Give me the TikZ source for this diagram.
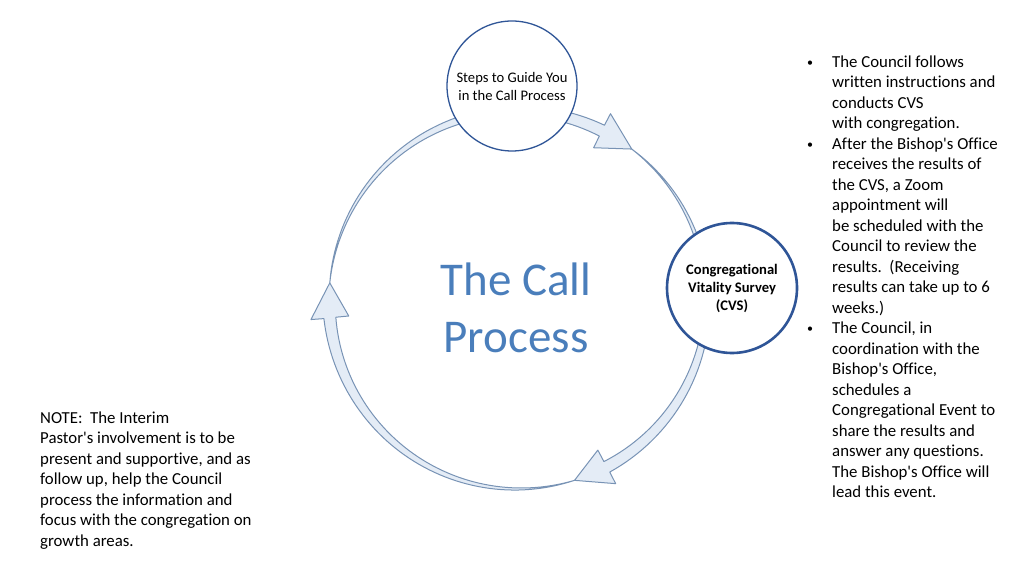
\documentclass[tikz,border=0pt]{standalone}
\usepackage{fontspec}
\setmainfont{Carlito}[Ligatures={TeX,NoCommon}]
\usepackage{tikz}
\usetikzlibrary{positioning,calc}
\usepackage{xcolor}
\definecolor{nodeblue}{HTML}{2F5597}
\definecolor{titleblue}{HTML}{4A7EBB}
\definecolor{ringfill}{HTML}{E4ECF6}
\definecolor{ringline}{HTML}{7893B5}
\newcommand{\apos}{\textquotesingle}
\newcommand{\dotmark}{\raisebox{1pt}{\fontsize{12}{12}\selectfont\textbullet}}

% one tapering arc of the ring: #1 tail angle, #2 tip angle (clockwise)
\newcommand{\ringarrow}[2]{%
  \pgfmathsetmacro\hb{#2+10.6}
  \filldraw[ring] plot[domain=0:1,samples=60,variable=\s] ({#1+\s*(\hb-#1)}:{189+6*\s})
    -- (\hb:208) -- (#2:189) -- (\hb:170)
    -- plot[domain=0:1,samples=60,variable=\s] ({#1+(1-\s)*(\hb-#1)}:{189-6*(1-\s)}) -- cycle;
}

\begin{document}
\begin{tikzpicture}[x=1pt,y=1pt,
  ring/.style={fill=ringfill,draw=ringline,line width=1pt,line join=round},
  stage/.style={circle,draw=nodeblue,fill=white,minimum size=130pt,inner sep=0pt,align=center},
  body/.style={font=\fontsize{16.8}{20.5}\selectfont,inner sep=0pt}]
\useasboundingbox (0,0) rectangle (1024,576);

% ring of arrows
\begin{scope}[shift={(518,276)}]
\ringarrow{174.8}{53}
\ringarrow{53}{-72.6}
\ringarrow{-72.6}{-185.2}
\end{scope}

\node[stage,line width=1.3pt,font=\fontsize{14.6}{18}\selectfont] (steps) at (512,490) {Steps to Guide You\\in the Call Process};
\node[stage,line width=2.6pt,font=\fontsize{14.6}{18}\selectfont\bfseries] (cvs) at (732,288) {Congregational\\Vitality Survey\\(CVS)};

\node[text=titleblue,align=center,font=\fontsize{47}{57}\selectfont] (title) at (516,268) {The Call\\Process};

\node[body,anchor=north west] (tasks) at (807,523.4) {%
\begin{tabular}{@{}p{25pt}@{}l@{}}
\dotmark & The Council follows\\
 & written instructions and\\
 & conducts CVS\\
 & with congregation.\\
\dotmark & After the Bishop\apos s Office\\
 & receives the results of\\
 & the CVS, a Zoom\\
 & appointment will\\
 & be scheduled with the\\
 & Council to review the\\
 & results.\ \ (Receiving\\
 & results can take up to 6\\
 & weeks.)\\
\dotmark & The Council, in\\
 & coordination with the\\
 & Bishop\apos s Office,\\
 & schedules a\\
 & Congregational Event to\\
 & share the results and\\
 & answer any questions.\\
 & The Bishop\apos s Office will\\
 & lead this event.
\end{tabular}};

\node[body,anchor=north west] (note) at (40,167.4) {%
\begin{tabular}{@{}l@{}}
NOTE:\ \ The Interim\\
Pastor\apos s involvement is to be\\
present and supportive, and as\\
follow up, help the Council\\
process the information and\\
focus with the congregation on\\
growth areas.
\end{tabular}};
\end{tikzpicture}
\end{document}
